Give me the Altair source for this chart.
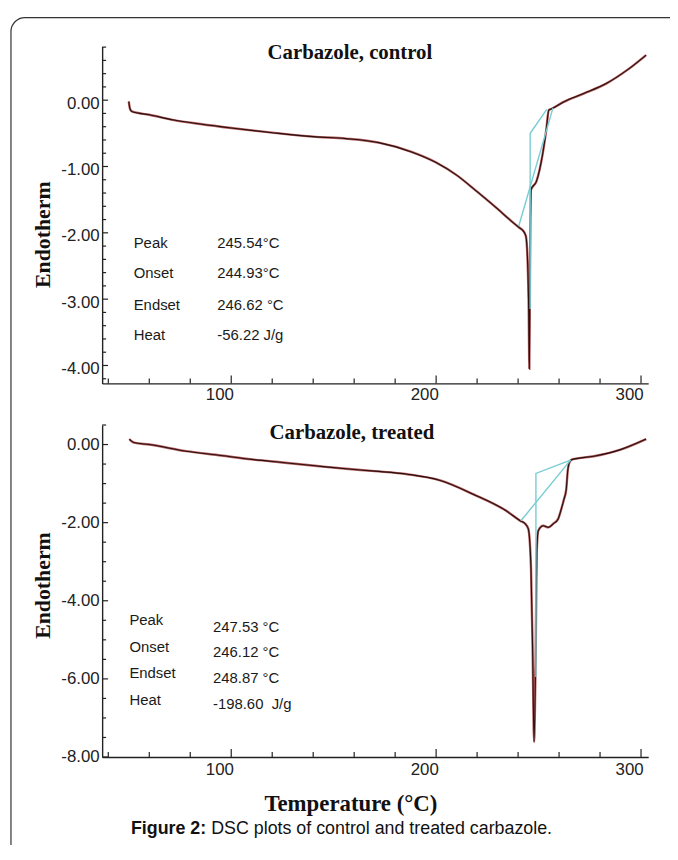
import altair as alt
import pandas as pd

# ---------------- data ----------------
# Carbazole, control
ctrl_T = [50.0, 50.6, 51.5, 60, 72, 85, 100, 120, 140, 156,
          172, 188, 200, 210, 220, 230, 237, 240.5, 242.5, 243.8,
          244.6, 245.2, 245.5, 245.8, 246.3, 249.0, 252.0, 253.7, 255.0, 256.4,
          262, 272, 283, 293.5, 302.5]
ctrl_v = [-0.02, -0.13, -0.17, -0.22, -0.30, -0.36, -0.42, -0.49, -0.55, -0.58,
          -0.64, -0.78, -0.94, -1.13, -1.38, -1.64, -1.83, -1.92, -1.97, -2.05,
          -2.40, -3.20, -4.05, -2.60, -1.35, -1.22, -0.81, -0.46, -0.15, -0.13,
          -0.03, 0.10, 0.25, 0.46, 0.68]
# integration construction lines (cyan)
ctrl_base_T = [240.3, 257.0]
ctrl_base_v = [-1.90, -0.12]
ctrl_int_T = [245.9, 245.9, 254.0]
ctrl_int_v = [-3.15, -0.50, -0.14]

# Carbazole, treated
trt_T = [50.3, 51.0, 52.5, 60, 78, 95, 110, 125, 142, 156,
         170, 186, 202, 218, 234, 241, 243.5, 245.0, 246.3, 247.1,
         247.8, 248.6, 249.1, 249.9, 252.3, 254.7, 257.1, 259.5, 261.1, 262.4,
         263.5, 264.3, 265.4, 266.5, 277, 290, 302.5]
trt_v = [0.14, 0.10, 0.05, 0.0, -0.17, -0.28, -0.38, -0.46, -0.55, -0.62,
         -0.68, -0.76, -0.92, -1.27, -1.69, -1.95, -2.03, -2.16, -3.17, -5.29,
         -7.61, -5.30, -2.76, -2.20, -2.08, -2.12, -2.03, -1.91, -1.65, -1.40,
         -1.15, -0.64, -0.42, -0.38, -0.30, -0.13, 0.14]
trt_base_T = [241.4, 265.6]
trt_base_v = [-1.95, -0.40]
trt_int_T = [248.7, 248.7, 265.6]
trt_int_v = [-5.95, -0.74, -0.40]

# annotations
ann_labels = ["Peak", "Onset", "Endset", "Heat"]
ctrl_ann_values = ["245.54\u00b0C", "244.93\u00b0C", "246.62 \u00b0C", "-56.22 J/g"]
ctrl_ann_v = [-2.15, -2.61, -3.09, -3.54]
trt_ann_values = ["247.53 \u00b0C", "246.12 \u00b0C", "248.87 \u00b0C", "-198.60\u00a0\u00a0J/g"]
trt_ann_label_v = [-4.49, -5.18, -5.85, -6.54]
trt_ann_value_v = [-4.66, -5.31, -5.98, -6.65]

# axes
x_labels = [100, 200, 300]
x_minor = [40, 60, 80, 120, 140, 160, 180, 220, 240, 260, 280]
ctrl_y_labels = [0, -1, -2, -3, -4]
ctrl_y_minor = [0.8, 0.6, 0.4, 0.2, -0.2, -0.4, -0.6, -0.8, -1.2, -1.4, -1.6, -1.8,
                -2.2, -2.4, -2.6, -2.8, -3.2, -3.4, -3.6, -3.8, -4.2]
trt_y_labels = [0, -2, -4, -6, -8]
trt_y_minor = [0.5, -0.5, -1, -1.5, -2.5, -3, -3.5, -4.5, -5, -5.5, -6.5, -7, -7.5]

# ---------------- layout ----------------
W, H = 551, 717
X_DOMAIN = [37, 303.5]
TOP_DOMAIN = [-4.27, 0.81]
TOP_RANGE = [340, 0]
BOT_DOMAIN = [-8.0, 0.5]
BOT_RANGE = [717, 382]

CURVE_RED = "#a03838"
CURVE_DARK = "#2b0e0e"
CYAN = "#78cdd4"
AXIS_C = "#222222"
SANS = "Liberation Sans, Arial, sans-serif"
SERIF = "Liberation Serif, Times New Roman, serif"

label_expr = "datum.value < 0 ? '-' + format(-datum.value, '.2f') : format(datum.value, '.2f')"


def panel(T, v, baseT, basev, intT, intv, ydom, yrng, ylabels, yminor, x_offset,
          xlab_pad, ylab_off, ann_lab_T, ann_val_T, lab_v, val_v, ann_values, title, title_x, title_y):
    xs = alt.Scale(domain=X_DOMAIN, range=[0, W], nice=False, zero=False)
    ys = alt.Scale(domain=ydom, range=yrng, nice=False, zero=False)
    curve_df = pd.DataFrame({"T": T, "v": v, "i": list(range(len(T)))})
    xaxis = alt.Axis(orient="bottom", values=x_labels, ticks=False, tickSize=0, grid=False,
                     domainColor=AXIS_C, domainWidth=1.4, labelFont=SANS, labelFontSize=17,
                     labelColor="#222", labelPadding=xlab_pad, labelOffset=-12,
                     offset=x_offset, title=None, labelFlush=False)
    yaxis = alt.Axis(orient="left", values=ylabels, ticks=False, tickSize=0, grid=False,
                     domainColor=AXIS_C, domainWidth=1.4, labelFont=SANS, labelFontSize=17,
                     labelColor="#222", labelPadding=3, labelOffset=ylab_off,
                     labelExpr=label_expr, title=None, labelFlush=False)
    under = alt.Chart(curve_df).mark_line(color=CURVE_RED, strokeWidth=2.4, opacity=0.8,
                                          interpolate="monotone").encode(
        x=alt.X("T:Q", scale=xs, axis=xaxis),
        y=alt.Y("v:Q", scale=ys, axis=yaxis),
        order="i:Q",
    )
    over = alt.Chart(curve_df).mark_line(color=CURVE_DARK, strokeWidth=1.1,
                                         interpolate="monotone").encode(
        x=alt.X("T:Q"), y=alt.Y("v:Q"), order="i:Q")
    cy_df = pd.DataFrame({
        "T": baseT + intT,
        "v": basev + intv,
        "seg": ["a"] * len(baseT) + ["b"] * len(intT),
        "i": list(range(len(baseT))) + list(range(len(intT))),
    })
    cyan = alt.Chart(cy_df).mark_line(color=CYAN, strokeWidth=1.4).encode(
        x="T:Q", y="v:Q", detail="seg:N", order="i:Q")
    ybot = yrng[0]
    xt_minor = alt.Chart(pd.DataFrame({"t": x_minor})).mark_rule(color=AXIS_C, strokeWidth=1.2).encode(
        x="t:Q", y=alt.value(ybot), y2=alt.value(ybot - 5))
    xt_major = alt.Chart(pd.DataFrame({"t": x_labels})).mark_rule(color=AXIS_C, strokeWidth=1.2).encode(
        x="t:Q", y=alt.value(ybot), y2=alt.value(ybot - 8))
    yt_minor = alt.Chart(pd.DataFrame({"t": yminor})).mark_rule(color=AXIS_C, strokeWidth=1.2).encode(
        y="t:Q", x=alt.value(0), x2=alt.value(4))
    yt_major = alt.Chart(pd.DataFrame({"t": ylabels})).mark_rule(color=AXIS_C, strokeWidth=1.2).encode(
        y="t:Q", x=alt.value(0), x2=alt.value(6))
    lab_df = pd.DataFrame({"T": [ann_lab_T] * 4, "v": lab_v, "s": ann_labels})
    val_df = pd.DataFrame({"T": [ann_val_T] * 4, "v": val_v, "s": ann_values})
    labs = alt.Chart(lab_df).mark_text(align="left", baseline="middle", font=SANS, fontSize=15,
                                       color="#1a1a1a").encode(x="T:Q", y="v:Q", text="s:N")
    vals = alt.Chart(val_df).mark_text(align="left", baseline="middle", font=SANS, fontSize=15,
                                       color="#1a1a1a").encode(x="T:Q", y="v:Q", text="s:N")
    ttl = alt.Chart(pd.DataFrame({"s": [title]})).mark_text(
        align="center", baseline="middle", font=SERIF, fontSize=21, fontWeight="bold", color="#111"
    ).encode(x=alt.value(title_x), y=alt.value(title_y), text="s:N")
    return alt.layer(under, over, cyan, xt_minor, xt_major, yt_minor, yt_major, labs, vals, ttl)


top = panel(ctrl_T, ctrl_v, ctrl_base_T, ctrl_base_v, ctrl_int_T, ctrl_int_v,
            TOP_DOMAIN, TOP_RANGE, ctrl_y_labels, ctrl_y_minor, -(H - TOP_RANGE[0]), 3, 3,
            52.4, 93.2, ctrl_ann_v, ctrl_ann_v, ctrl_ann_values, "Carbazole, control", 250, 7)
bottom = panel(trt_T, trt_v, trt_base_T, trt_base_v, trt_int_T, trt_int_v,
               BOT_DOMAIN, BOT_RANGE, trt_y_labels, trt_y_minor, 0, 5, 0,
               50.3, 91.1, trt_ann_label_v, trt_ann_value_v, trt_ann_values, "Carbazole, treated", 252, 390)

one = pd.DataFrame({"a": [0]})
frame = alt.Chart(one).mark_rect(fillOpacity=0, stroke="#333333", strokeWidth=1.2, cornerRadius=14).encode(
    x=alt.value(-92), x2=alt.value(W + 80), y=alt.value(-29), y2=alt.value(H + 140))
endo = alt.Chart(pd.DataFrame({"s": ["Endotherm", "Endotherm"], "yy": [190, 544]})).mark_text(
    angle=270, align="center", baseline="middle", font=SERIF, fontSize=22, fontWeight="bold", color="#111"
).encode(x=alt.value(-60), y=alt.Y("yy:Q", scale=None, axis=None), text="s:N")
xtitle = alt.Chart(pd.DataFrame({"s": ["Temperature (\u00b0C)"]})).mark_text(
    align="center", baseline="middle", font=SERIF, fontSize=23, fontWeight="bold", color="#111"
).encode(x=alt.value(251), y=alt.value(764), text="s:N")
cap_bold = alt.Chart(pd.DataFrame({"s": ["Figure 2:"]})).mark_text(
    align="right", baseline="middle", font=SANS, fontSize=18, fontWeight="bold", color="#111"
).encode(x=alt.value(105), y=alt.value(790), text="s:N")
cap_rest = alt.Chart(pd.DataFrame({"s": ["DSC plots of control and treated carbazole."]})).mark_text(
    align="left", baseline="middle", font=SANS, fontSize=18, color="#111"
).encode(x=alt.value(110), y=alt.value(790), text="s:N")
deco = alt.layer(frame, endo, xtitle, cap_bold, cap_rest)

chart = alt.layer(top, bottom, deco).resolve_scale(x="independent", y="independent").properties(
    width=W, height=H, autosize=alt.AutoSizeParams(type="none"),
    padding={"left": 95, "top": 35, "right": 22, "bottom": 85},
    background="white",
).configure_view(stroke=None)

chart.save("out.html", embed_options={"renderer": "svg", "actions": False})
